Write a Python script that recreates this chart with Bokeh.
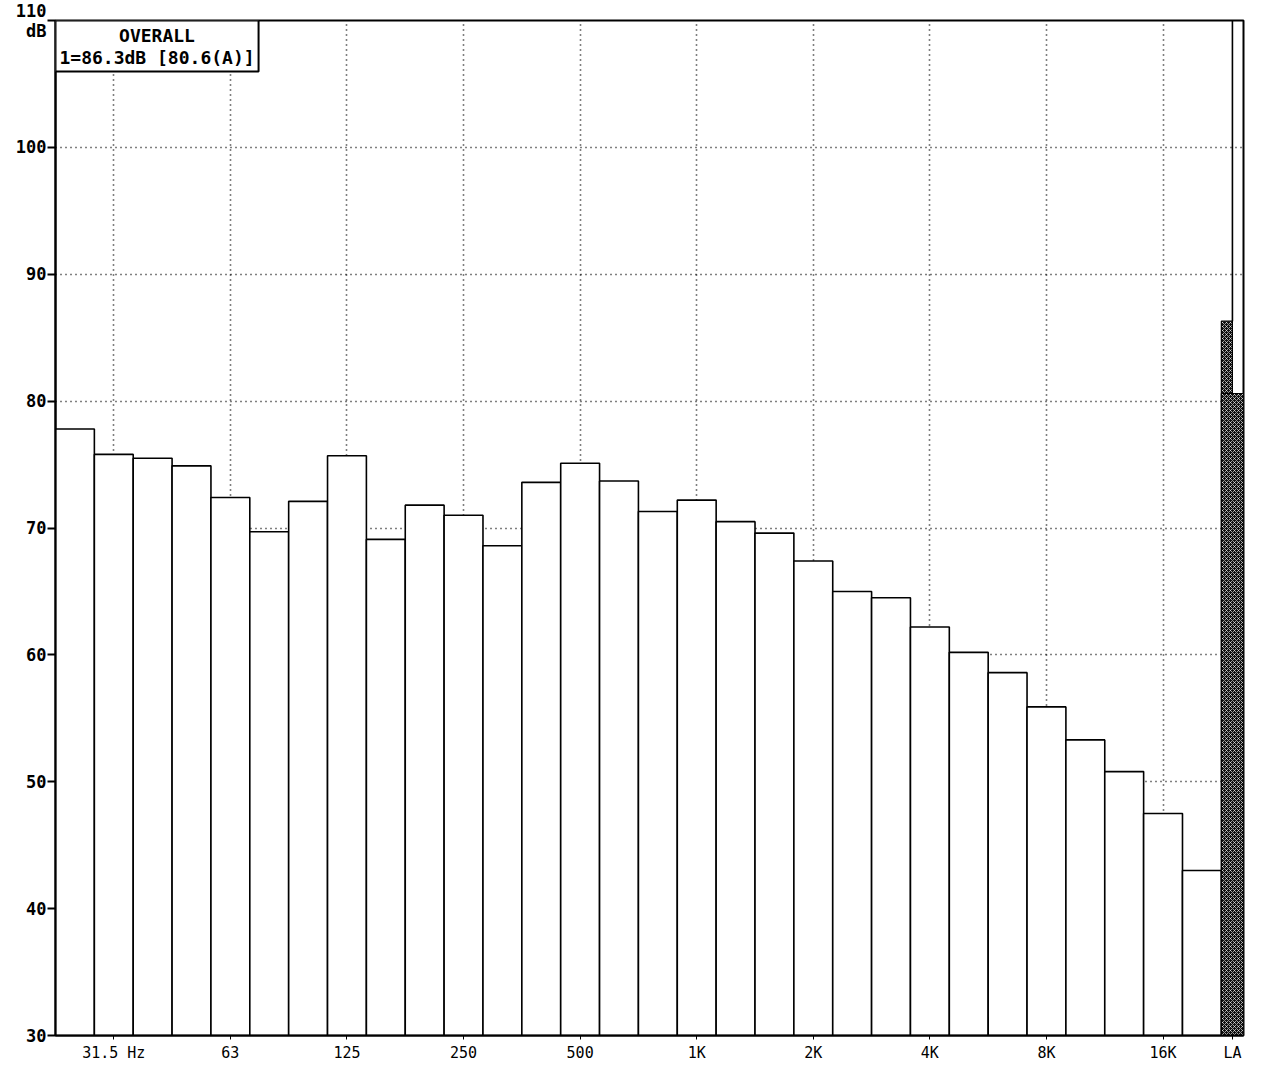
from bokeh.plotting import figure
from bokeh.models import Range1d, FixedTicker, Label
from bokeh.embed import file_html
from bokeh.resources import INLINE

# 1/3-octave band levels (dB), 25 Hz .. 20 kHz
bands = ["25", "31.5", "40", "50", "63", "80", "100", "125", "160", "200",
         "250", "315", "400", "500", "630", "800", "1K", "1.25K", "1.6K", "2K",
         "2.5K", "3.15K", "4K", "5K", "6.3K", "8K", "10K", "12.5K", "16K", "20K"]
levels = [77.8, 75.8, 75.5, 74.9, 72.4, 69.7, 72.1, 75.7, 69.1, 71.8,
          71.0, 68.6, 73.6, 75.1, 73.7, 71.3, 72.2, 70.5, 69.6, 67.4,
          65.0, 64.5, 62.2, 60.2, 58.6, 55.9, 53.3, 50.8, 47.5, 43.0]

# overall levels shown in the LA column
overall_lin = 86.3
overall_a = 80.6

# octave bands that carry an axis label
octave_bands = ["31.5", "63", "125", "250", "500", "1K", "2K", "4K", "8K", "16K"]
octave_labels = ["31.5 Hz", "63", "125", "250", "500", "1K", "2K", "4K", "8K", "16K"]

y_ticks = [30, 40, 50, 60, 70, 80, 90, 100, 110]
y_tick_labels = ["30", "40", "50", "60", "70", "80", "90", "100", "110\ndB"]

n = len(bands)
la_width = 0.57
x_max = n + la_width

p = figure(width=1265, height=1074, output_backend="svg", toolbar_location=None,
           x_range=Range1d(0, x_max), y_range=Range1d(30, 110))
p.min_border_left = 55
p.min_border_right = 22
p.min_border_top = 20
p.min_border_bottom = 39
p.background_fill_color = "white"
p.border_fill_color = "white"
p.outline_line_color = "black"
p.outline_line_width = 2

mono = "DejaVu Sans Mono"

# y axis
p.yaxis.ticker = FixedTicker(ticks=y_ticks)
p.yaxis.major_label_overrides = {t: s for t, s in zip(y_ticks, y_tick_labels)}
p.yaxis.major_label_text_font = mono
p.yaxis.major_label_text_font_style = "bold"
p.yaxis.major_label_text_font_size = "17px"
p.yaxis.major_label_text_color = "black"
p.yaxis.major_label_text_line_height = 1.0
p.yaxis.major_tick_out = 8
p.yaxis.major_tick_in = 0
p.yaxis.minor_tick_line_color = None
p.yaxis.axis_line_width = 2
p.yaxis.major_tick_line_width = 2
p.yaxis.major_label_standoff = 1

# x axis: octave centres plus the LA column
idx = {b: i for i, b in enumerate(bands)}
octave_x = [idx[b] + 0.5 for b in octave_bands]
la_x = n + la_width / 2
x_ticks = octave_x + [la_x]
p.xaxis.ticker = FixedTicker(ticks=x_ticks)
p.xaxis.major_label_overrides = {**{x: s for x, s in zip(octave_x, octave_labels)}, la_x: "LA"}
p.xaxis.major_label_text_font = mono
p.xaxis.major_label_text_font_size = "15px"
p.xaxis.major_label_text_color = "black"
p.xaxis.major_tick_out = 4
p.xaxis.major_tick_in = 0
p.xaxis.minor_tick_line_color = None
p.xaxis.axis_line_width = 2
p.xaxis.major_label_standoff = 4

# dotted grid
p.xgrid.ticker = FixedTicker(ticks=octave_x)
p.ygrid.ticker = FixedTicker(ticks=[40, 50, 60, 70, 80, 90, 100])
for g in (p.xgrid, p.ygrid):
    g.grid_line_color = "black"
    g.grid_line_dash = "1 4"
    g.grid_line_width = 1.6

# band bars
left = list(range(n))
right = [i + 1 for i in range(n)]
p.quad(left=left, right=right, bottom=30, top=levels,
       fill_color="white", line_color="black", line_width=1.6)

# LA column: linear overall (narrow) and A-weighted overall (wide), hatched
hatch = dict(fill_color="#0e0e0e", hatch_pattern="x", hatch_color="white",
             hatch_scale=4, hatch_weight=0.6, line_color="black", line_width=1.2)
p.quad(left=[n], right=[n + la_width / 2], bottom=30, top=[overall_lin], **hatch)
p.quad(left=[n], right=[n + la_width], bottom=30, top=[overall_a], **hatch)
p.segment(x0=[n + la_width / 2], y0=[overall_lin], x1=[n + la_width / 2], y1=[110],
          line_color="black", line_width=1.6)

# overall level box
legend_text = f"OVERALL\n1={overall_lin:.1f}dB [{overall_a:.1f}(A)]"
p.add_layout(Label(x=0, y=110, text=legend_text, anchor="top_left",
                   text_align="center", text_font=mono, text_font_style="bold",
                   text_font_size="18px", text_color="black", text_line_height=1.05,
                   border_line_color="black", border_line_width=2,
                   background_fill_color="white", padding=4))

open("out.html", "w").write(file_html(p, INLINE))
